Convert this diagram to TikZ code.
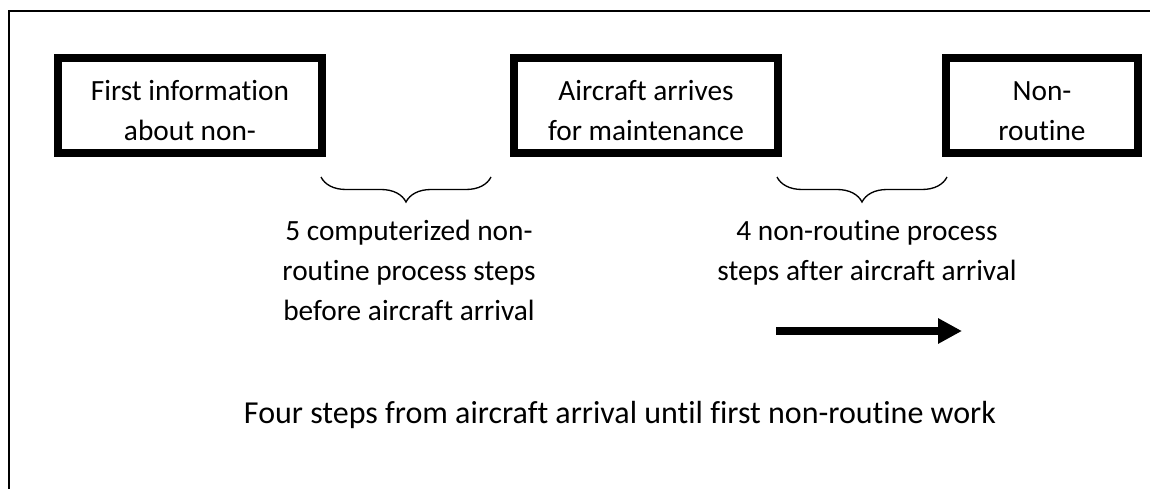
\documentclass[tikz,border=0pt]{standalone}
\usepackage{fontspec}
\setmainfont{Carlito}[Ligatures=NoCommon]
\usetikzlibrary{arrows.meta,decorations.pathreplacing}
\tikzset{
  stepbox/.style={draw,line width=6pt,minimum height=71.25pt,inner sep=0pt},
  steptext/.style={align=center,font=\fontsize{22}{30}\selectfont},
  stepbrace/.style={decorate,decoration={brace,mirror,amplitude=18.75pt},line width=1pt},
}
\begin{document}
\begin{tikzpicture}[x=0.75pt,y=-0.75pt]
  \useasboundingbox (0,0) rectangle (1150,489);
  \draw[line width=0.8pt] (9,489) |- (1150,11);
  % milestones
  \node[stepbox,minimum width=198pt] (info) at (190,105.5) {};
  \node[stepbox,minimum width=198pt] (arrival) at (646,105.5) {};
  \node[stepbox,minimum width=144pt] (work) at (1042,105.5) {};
  \node[steptext,anchor=base] (infotext) at (190,140) {First information\\about non-};
  \node[steptext,anchor=base] (arrivaltext) at (646,140) {Aircraft arrives\\for maintenance};
  \node[steptext,anchor=base] (worktext) at (1042,140) {Non-\\routine};
  % braces between the milestones
  \coordinate (before1) at (321,177);
  \coordinate (before2) at (491,177);
  \coordinate (after1) at (777,177);
  \coordinate (after2) at (947,177);
  \draw[stepbrace] (before1) -- (before2);
  \draw[stepbrace] (after1) -- (after2);
  \node[steptext,anchor=base] (beforetext) at (409,320)
    {5 computerized non-\\routine process steps\\before aircraft arrival};
  \node[steptext,anchor=base] (aftertext) at (867,280)
    {4 non-routine process\\steps after aircraft arrival};
  % direction of work
  \coordinate (runstart) at (776,331);
  \coordinate (runend) at (962,331);
  \draw[line width=6pt,-{Triangle[length=18pt,width=18pt]}] (runstart) -- (runend);
  \node[steptext,font=\fontsize{24}{30}\selectfont,anchor=base] (summary) at (620,423)
    {Four steps from aircraft arrival until first non-routine work};
\end{tikzpicture}
\end{document}
